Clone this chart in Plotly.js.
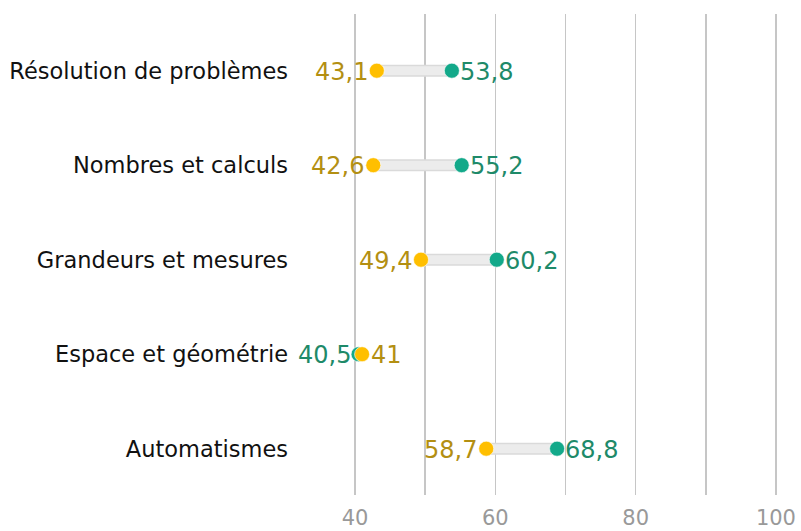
<!DOCTYPE html>
<html>
<head>
<meta charset="utf-8">
<script src="https://cdn.plot.ly/plotly-3.0.1.min.js"></script>
<style>html,body{margin:0;padding:0;background:#fff;}#chart{width:801px;height:531px;}</style>
</head>
<body>
<div id="chart"></div>
<script>
// Categories, bottom to top
const categories = ["Automatismes", "Espace et géométrie", "Grandeurs et mesures", "Nombres et calculs", "Résolution de problèmes"];
const yellowValues = [58.7, 41.0, 49.4, 42.6, 43.1];
const greenValues  = [68.8, 40.5, 60.2, 55.2, 53.8];
const xTickValues = [40, 60, 80, 100];

const fmt = v => String(v).replace('.', ',');

const yellowMarker = '#FFBF00';
const greenMarker = '#13A98A';
const yellowText = '#B38F12';
const greenText = '#1E8A69';
const fontFam = 'DejaVu Sans, sans-serif';

// connector segments
const cx = [], cy = [];
categories.forEach((c, i) => { cx.push(yellowValues[i], greenValues[i], null); cy.push(c, c, null); });

// value labels as annotations
const annotations = [];
categories.forEach((c, i) => {
  const y = yellowValues[i], g = greenValues[i];
  const yLeft = y <= g;
  annotations.push({x: y, y: c, text: fmt(y), showarrow: false, xanchor: yLeft ? 'right' : 'left',
    xshift: yLeft ? -7 : 7, yshift: -1, font: {color: yellowText, size: 24, family: fontFam}});
  annotations.push({x: g, y: c, text: fmt(g), showarrow: false, xanchor: yLeft ? 'left' : 'right',
    xshift: yLeft ? 6 : -6, yshift: -1, font: {color: greenText, size: 24, family: fontFam}});
});

const traces = [
  {x: cx, y: cy, mode: 'lines', line: {color: '#dadada', width: 12}, hoverinfo: 'skip', showlegend: false},
  {x: cx, y: cy, mode: 'lines', line: {color: '#ececec', width: 9}, hoverinfo: 'skip', showlegend: false},
  {x: greenValues, y: categories, mode: 'markers', cliponaxis: false,
   marker: {color: greenMarker, size: 15, line: {color: '#ffffff', width: 0.6}}, showlegend: false},
  {x: yellowValues, y: categories, mode: 'markers', cliponaxis: false,
   marker: {color: yellowMarker, size: 15, line: {color: '#ffffff', width: 0.6}}, showlegend: false}
];

const layout = {
  width: 801, height: 531,
  margin: {l: 354, r: 24, t: 14, b: 36},
  paper_bgcolor: '#ffffff', plot_bgcolor: '#ffffff',
  font: {family: fontFam},
  annotations: annotations,
  xaxis: {
    range: [39.85, 100.15], tickvals: xTickValues, ticktext: xTickValues.map(String),
    showgrid: true, gridcolor: '#c6c6c6', gridwidth: 1.6, zeroline: false, showline: false,
    minor: {dtick: 10, tick0: 40, showgrid: true, gridcolor: '#c6c6c6', gridwidth: 1.6},
    tickfont: {size: 21, color: '#999999', family: fontFam}, ticks: '', ticklabelstandoff: 8
  },
  yaxis: {
    type: 'category', categoryorder: 'array', categoryarray: categories,
    range: [-0.49, 4.6], showgrid: false, zeroline: false, showline: false, ticks: '',
    tickfont: {size: 22.5, color: '#111111', family: fontFam}, ticklabelstandoff: 65
  }
};

Plotly.newPlot('chart', traces, layout, {displayModeBar: false, staticPlot: true});
</script>
</body>
</html>
